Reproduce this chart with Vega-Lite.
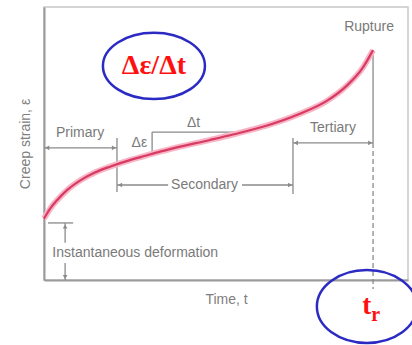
{
  "$schema": "https://vega.github.io/schema/vega-lite/v6.json",
  "autosize": {"type": "none"},
  "width": 364,
  "height": 273,
  "padding": {"left": 44, "top": 7, "right": 4, "bottom": 65},
  "background": "white",
  "config": {
    "view": {"stroke": "#c8c8c8", "strokeWidth": 1.5},
    "font": "Liberation Sans"
  },
  "datasets": {
    "curve": [
      {"t": 0, "e": 22.5},
      {"t": 1.84, "e": 26.4},
      {"t": 3.65, "e": 29.3},
      {"t": 6.4, "e": 33.0},
      {"t": 10.1, "e": 36.6},
      {"t": 13.7, "e": 39.2},
      {"t": 18.3, "e": 41.6},
      {"t": 23.8, "e": 44.0},
      {"t": 27.5, "e": 45.4},
      {"t": 32.1, "e": 47.1},
      {"t": 35.7, "e": 48.3},
      {"t": 45.6, "e": 51.3},
      {"t": 51.9, "e": 53.3},
      {"t": 61.3, "e": 56.6},
      {"t": 70.3, "e": 60.9},
      {"t": 77.7, "e": 65.6},
      {"t": 83.2, "e": 71.2},
      {"t": 87.6, "e": 77.8},
      {"t": 90.4, "e": 84.2}
    ],
    "rules": [
      {"t1": 0, "t2": 20.05, "e1": 48.4, "e2": 48.4},
      {"t1": 20.05, "t2": 20.05, "e1": 52.0, "e2": 32.2},
      {"t1": 29.7, "t2": 29.7, "e1": 54.2, "e2": 46.3},
      {"t1": 29.7, "t2": 52.5, "e1": 54.2, "e2": 54.2},
      {"t1": 20.05, "t2": 34.1, "e1": 34.8, "e2": 34.8},
      {"t1": 54.4, "t2": 68.4, "e1": 34.8, "e2": 34.8},
      {"t1": 68.4, "t2": 68.4, "e1": 52.0, "e2": 31.5},
      {"t1": 68.4, "t2": 90.4, "e1": 50.2, "e2": 50.2},
      {"t1": 90.4, "t2": 90.4, "e1": 84.2, "e2": 50.2},
      {"t1": 1.1, "t2": 8.0, "e1": 20.9, "e2": 20.9},
      {"t1": 5.8, "t2": 5.8, "e1": 20.9, "e2": 13.6},
      {"t1": 5.8, "t2": 5.8, "e1": 6.2, "e2": 0}
    ],
    "dashed": [
      {"t1": 90.4, "t2": 90.4, "e1": 50.2, "e2": -3.3}
    ],
    "arrows": [
      {"t": 0.9, "e": 48.4, "dir": "left"},
      {"t": 19.2, "e": 48.4, "dir": "right"},
      {"t": 20.9, "e": 34.8, "dir": "left"},
      {"t": 67.6, "e": 34.8, "dir": "right"},
      {"t": 69.2, "e": 50.2, "dir": "left"},
      {"t": 89.6, "e": 50.2, "dir": "right"},
      {"t": 5.8, "e": 19.6, "dir": "up"},
      {"t": 5.8, "e": 1.1, "dir": "down"}
    ],
    "labels": [
      {"t": 9.9, "e": 53.8, "label": "Primary"},
      {"t": 44.1, "e": 34.8, "label": "Secondary"},
      {"t": 79.4, "e": 55.7, "label": "Tertiary"},
      {"t": 89.3, "e": 92.7, "label": "Rupture"},
      {"t": 26.2, "e": 50.2, "label": "Δε"},
      {"t": 41.1, "e": 57.5, "label": "Δt"}
    ],
    "leftlabels": [
      {"t": 2.3, "e": 9.9, "label": "Instantaneous deformation"}
    ],
    "bubble1": [{"t": 30.2, "e": 78.4, "label": "Δε/Δt"}],
    "bubble2": [{"t": 88.7, "e": -9.7, "label": "t"}],
    "sub": [{"t": 91.1, "e": -13.0, "label": "r"}]
  },
  "encoding": {
    "x": {"field": "t", "type": "quantitative", "scale": {"domain": [0, 100], "nice": false, "zero": false},
      "axis": {"title": "Time, t", "labels": false, "ticks": false, "grid": false, "domainColor": "#9a9a9a", "domainWidth": 2, "titleFontSize": 14, "titleFontWeight": "normal", "titleColor": "#808080", "titlePadding": 12, "titleFont": "Liberation Sans"}},
    "y": {"field": "e", "type": "quantitative", "scale": {"domain": [0, 100], "nice": false, "zero": false},
      "axis": {"title": "Creep strain, ε", "labels": false, "ticks": false, "grid": false, "domainColor": "#9a9a9a", "domainWidth": 2, "titleFontSize": 14, "titleFontWeight": "normal", "titleColor": "#808080", "titlePadding": 12, "titleFont": "Liberation Sans"}}
  },
  "layer": [
    {
      "data": {"name": "rules"},
      "mark": {"type": "rule", "color": "#8a8a8a", "strokeWidth": 1.3, "clip": false},
      "encoding": {
        "x": {"field": "t1", "type": "quantitative"},
        "x2": {"field": "t2"},
        "y": {"field": "e1", "type": "quantitative"},
        "y2": {"field": "e2"}
      }
    },
    {
      "data": {"name": "dashed"},
      "mark": {"type": "rule", "color": "#8a8a8a", "strokeWidth": 1.3, "strokeDash": [5, 3], "clip": false},
      "encoding": {
        "x": {"field": "t1", "type": "quantitative"},
        "x2": {"field": "t2"},
        "y": {"field": "e1", "type": "quantitative"},
        "y2": {"field": "e2"}
      }
    },
    {
      "data": {"name": "arrows"},
      "mark": {"type": "point", "filled": true, "color": "#8a8a8a", "size": 22, "opacity": 1, "clip": false},
      "encoding": {
        "shape": {"field": "dir", "type": "nominal", "legend": null,
          "scale": {"domain": ["left", "right", "up", "down"], "range": ["triangle-left", "triangle-right", "triangle-up", "triangle-down"]}}
      }
    },
    {
      "data": {"name": "curve"},
      "mark": {"type": "line", "color": "#f7b5c6", "strokeWidth": 6, "interpolate": "monotone", "clip": false},
      "encoding": {}
    },
    {
      "data": {"name": "curve"},
      "mark": {"type": "line", "color": "#d93a63", "strokeWidth": 2.2, "interpolate": "monotone", "clip": false},
      "encoding": {}
    },
    {
      "data": {"name": "labels"},
      "mark": {"type": "text", "fontSize": 14, "color": "#7a7a7a", "baseline": "middle", "align": "center", "clip": false},
      "encoding": {"text": {"field": "label"}}
    },
    {
      "data": {"name": "leftlabels"},
      "mark": {"type": "text", "fontSize": 14, "color": "#7a7a7a", "baseline": "middle", "align": "left", "clip": false},
      "encoding": {"text": {"field": "label"}}
    },
    {
      "data": {"name": "bubble1"},
      "mark": {"type": "point", "filled": false, "color": "#2b2bc4", "strokeWidth": 2.5, "opacity": 1, "size": 10404, "clip": false,
        "shape": "M-1,0C-1,-0.359,-0.552,-0.65,0,-0.65C0.552,-0.65,1,-0.359,1,0C1,0.359,0.552,0.65,0,0.65C-0.552,0.65,-1,0.359,-1,0Z"},
      "encoding": {}
    },
    {
      "data": {"name": "bubble1"},
      "mark": {"type": "text", "font": "Liberation Serif", "fontWeight": "bold", "fontSize": 28, "color": "#ff1010", "baseline": "middle", "align": "center", "clip": false},
      "encoding": {"text": {"field": "label"}}
    },
    {
      "data": {"name": "bubble2"},
      "mark": {"type": "point", "filled": false, "color": "#2b2bc4", "strokeWidth": 2.5, "opacity": 1, "size": 10000, "clip": false,
        "shape": "M-1,0C-1,-0.403,-0.552,-0.73,0,-0.73C0.552,-0.73,1,-0.403,1,0C1,0.403,0.552,0.73,0,0.73C-0.552,0.73,-1,0.403,-1,0Z"},
      "encoding": {}
    },
    {
      "data": {"name": "bubble2"},
      "mark": {"type": "text", "font": "Liberation Serif", "fontWeight": "bold", "fontSize": 27, "color": "#ff1010", "baseline": "middle", "align": "center", "clip": false},
      "encoding": {"text": {"field": "label"}}
    },
    {
      "data": {"name": "sub"},
      "mark": {"type": "text", "font": "Liberation Serif", "fontWeight": "bold", "fontSize": 20, "color": "#ff1010", "baseline": "middle", "align": "center", "clip": false},
      "encoding": {"text": {"field": "label"}}
    }
  ]
}
